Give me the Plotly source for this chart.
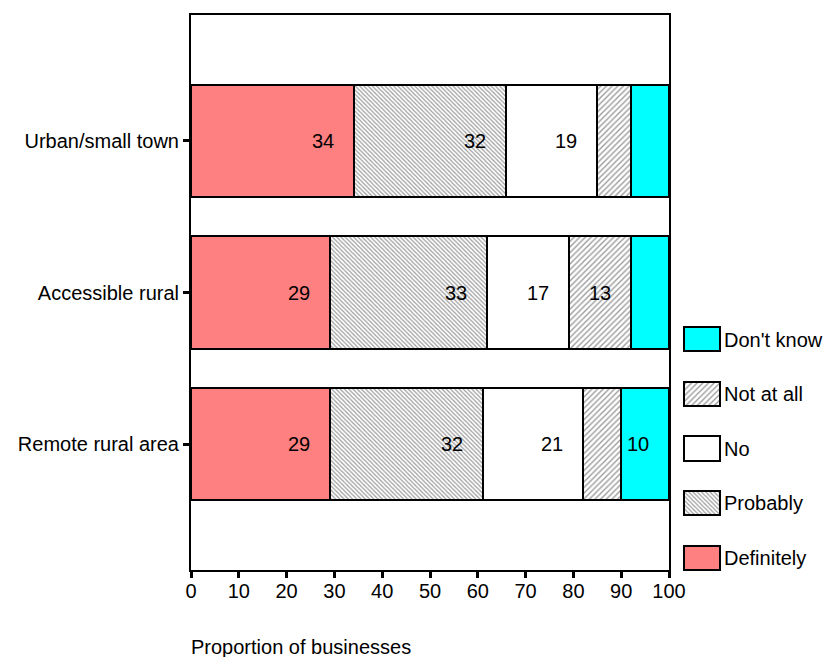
import plotly.graph_objects as go

# Survey responses by area type (percent of businesses)
areas = ["Urban/small town", "Accessible rural", "Remote rural area"]
responses = ["Definitely", "Probably", "No", "Not at all", "Don't know"]
definitely = [34, 29, 29]
probably = [32, 33, 32]
no = [19, 17, 21]
not_at_all = [7, 13, 8]
dont_know = [8, 8, 10]
x_ticks = [0, 10, 20, 30, 40, 50, 60, 70, 80, 90, 100]

series = [definitely, probably, no, not_at_all, dont_know]

FONT = "Liberation Sans, Arial, sans-serif"
W, H = 826, 657

styles = {
    "Definitely": dict(color="#FF8080"),
    "Probably": dict(color="white",
                     pattern=dict(shape="\\", fgcolor="#3a3a3a", bgcolor="white",
                                  size=3, solidity=0.4)),
    "No": dict(color="white"),
    "Not at all": dict(color="white",
                       pattern=dict(shape="/", fgcolor="#3a3a3a", bgcolor="white",
                                    size=4, solidity=0.35)),
    "Don't know": dict(color="#00FFFF"),
}

fig = go.Figure()

for name, vals in zip(responses, series):
    st = styles[name]
    marker = dict(color=st["color"], line=dict(color="black", width=2))
    if "pattern" in st:
        marker["pattern"] = st["pattern"]
    fig.add_trace(go.Bar(
        x=vals, y=areas, orientation="h", name=name, width=0.74,
        marker=marker, showlegend=False, xaxis="x", yaxis="y",
    ))

# Value labels near the right end of each segment (only for values of 10 or more)
annotations = []
for i, area in enumerate(areas):
    cum = 0
    for vals in series:
        v = vals[i]
        cum += v
        if v >= 10:
            annotations.append(dict(
                x=cum, y=area, xref="x", yref="y", text=str(v),
                showarrow=False, xanchor="center", yanchor="middle",
                xshift=-31, font=dict(family=FONT, size=20, color="black"),
            ))

# Custom legend: large swatches drawn on a small auxiliary axis
legend_order = ["Definitely", "Probably", "No", "Not at all", "Don't know"]
for idx, name in enumerate(legend_order):
    st = styles[name]
    marker = dict(color=st["color"], line=dict(color="black", width=2))
    if "pattern" in st:
        marker["pattern"] = st["pattern"]
    fig.add_trace(go.Bar(
        x=[1], y=[idx], base=0, orientation="h", width=0.44,
        marker=marker, showlegend=False, xaxis="x2", yaxis="y2",
        hoverinfo="skip",
    ))
    annotations.append(dict(
        x=722 / W, y=idx, xref="paper", yref="y2", text=name,
        showarrow=False, xanchor="left", yanchor="middle",
        font=dict(family=FONT, size=20, color="black"),
    ))

# Axis title placed left-aligned under the plot
annotations.append(dict(
    x=189 / W, y=(H - 647) / H, xref="paper", yref="paper",
    text="Proportion of businesses", showarrow=False,
    xanchor="left", yanchor="middle",
    font=dict(family=FONT, size=20, color="black"),
))

fig.update_layout(
    width=W, height=H,
    margin=dict(l=0, r=0, t=0, b=0, autoexpand=False),
    paper_bgcolor="white", plot_bgcolor="white",
    barmode="stack", bargap=0,
    font=dict(family=FONT, size=20, color="black"),
    xaxis=dict(
        domain=[191 / W, 669 / W], range=[0, 100],
        tickvals=x_ticks, ticktext=[str(t) for t in x_ticks],
        ticks="outside", ticklen=6, tickwidth=3, tickcolor="black",
        ticklabelstandoff=-4,
        showline=True, linecolor="black", linewidth=2, mirror=True,
        showgrid=False, zeroline=False, anchor="y", automargin=False,
        tickfont=dict(family=FONT, size=20, color="black"),
    ),
    yaxis=dict(
        domain=[(H - 570) / H, (H - 15) / H],
        type="category", categoryarray=areas, categoryorder="array",
        range=[2.83, -0.83],
        ticks="outside", ticklen=6, tickwidth=3, tickcolor="black",
        showline=True, linecolor="black", linewidth=2, mirror=True,
        showgrid=False, zeroline=False, anchor="x", automargin=False,
        tickfont=dict(family=FONT, size=20, color="black"),
    ),
    xaxis2=dict(
        domain=[683 / W, 721 / W], range=[-0.03, 1.03], visible=False,
        anchor="y2", fixedrange=True, automargin=False,
    ),
    yaxis2=dict(
        domain=[(H - 585.3) / H, (H - 312.3) / H], range=[-0.5, 4.5],
        visible=False, anchor="x2", fixedrange=True, automargin=False,
    ),
    annotations=annotations,
)

fig.write_html("out.html")
